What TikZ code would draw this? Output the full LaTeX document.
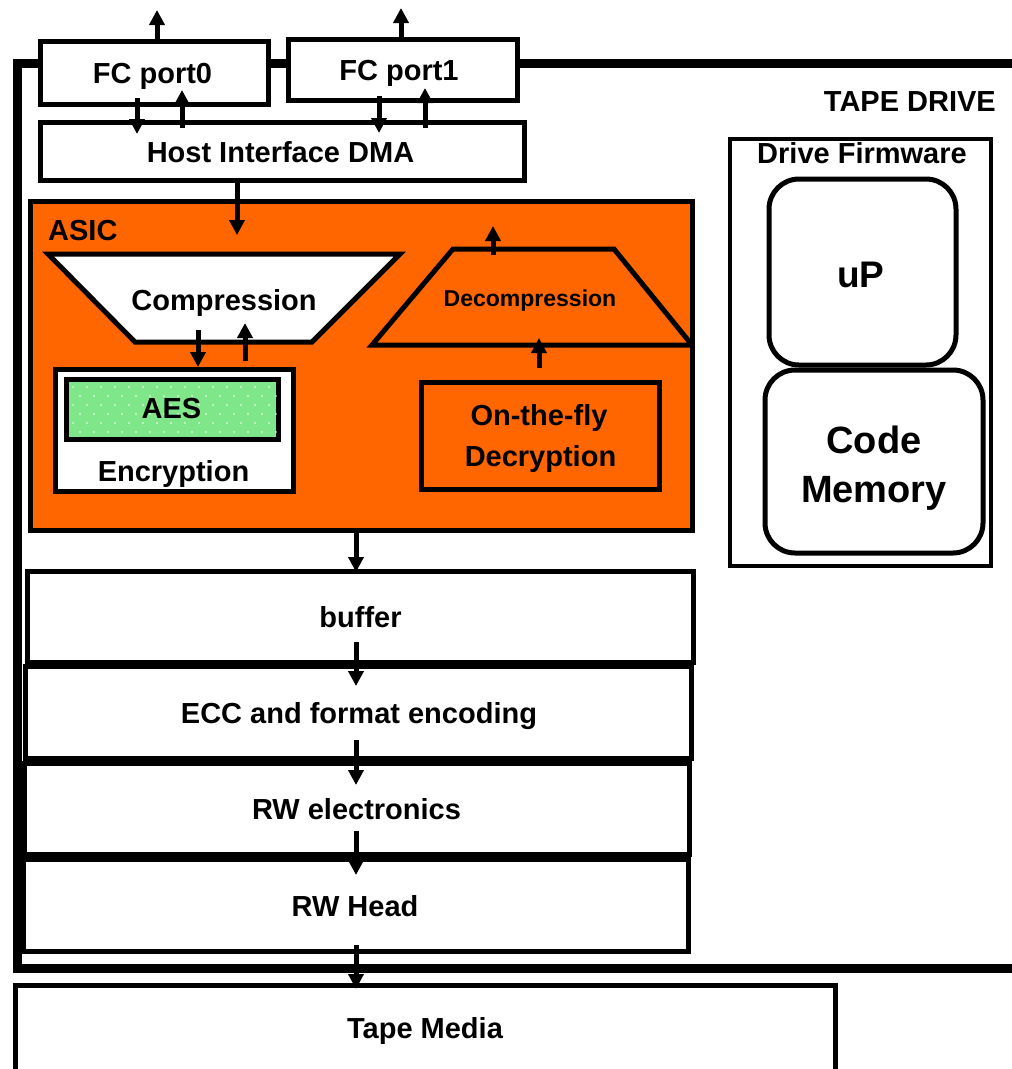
\documentclass[tikz,border=0pt]{standalone}
\usepackage{fontspec}
\setmainfont{Liberation Sans}
\usetikzlibrary{arrows.meta,calc}
\definecolor{asicorange}{RGB}{255,102,0}
\definecolor{aesgreen}{RGB}{128,230,138}
\begin{document}
\begin{tikzpicture}[x=1pt,y=-1pt,
  box/.style={draw=black, line width=5pt, fill=white, inner sep=0pt, outer sep=0pt},
  roundbox/.style={box, rounded corners=30pt},
  lbl/.style={anchor=base, inner sep=0pt, font=\bfseries\fontsize{29}{29}\selectfont},
  arr/.style={line width=5pt, -{Triangle[length=15pt,width=15pt]}}]
\useasboundingbox (0,0) rectangle (1012,1069);

% tape drive enclosure
\draw[line width=9pt] (1030,63) -- (17,63) -- (17,968) -- (1030,968);

% host side
\node[box, minimum width=228pt, minimum height=63pt] (port0) at (154,72.5) {};
\node[box, minimum width=229pt, minimum height=61pt] (port1) at (402.5,69.5) {};
\node[box, minimum width=484pt, minimum height=58pt] (host) at (282,151) {};

% ASIC block
\node[box, fill=asicorange, minimum width=662pt, minimum height=329pt] (asic) at (361,365.5) {};
\draw[line width=5pt, fill=white] (48,254) -- (400,254) -- (312,342) -- (135,342) -- cycle;
\coordinate (compB) at (223.5,342);
\begin{scope}
  \clip (asic.north west) rectangle (asic.south east);
  \draw[line width=5pt, fill=asicorange] (453,249) -- (614,249) -- (692,345) -- (372,345) -- cycle;
\end{scope}
\coordinate (decT) at (533.5,249);
\coordinate (decB) at (532,345);
\node[box, minimum width=238pt, minimum height=122pt] (enc) at (174,430) {};
\node[box, fill=aesgreen, minimum width=212pt, minimum height=60pt] (aes) at (172,409) {};
\foreach \j in {0,...,5}{
  \pgfmathsetmacro{\off}{mod(\j,2)*7}
  \foreach \i in {0,...,14}{
    \fill[white] ({73+14*\i+\off},{387+9*\j}) circle (0.9);
  }
}
\node[box, fill=asicorange, minimum width=238pt, minimum height=107pt] (dec) at (540,435.5) {};

% write path stack
\node[box, minimum width=666pt, minimum height=91pt] (buffer) at (360,616.5) {};
\node[box, minimum width=666pt, minimum height=92pt] (ecc) at (358,712) {};
\node[box, minimum width=665pt, minimum height=91pt] (rwe) at (356.5,808.5) {};
\node[box, minimum width=665pt, minimum height=92pt] (rwh) at (355.5,905) {};
\node[box, minimum width=820pt, minimum height=115pt] (tape) at (425,1042.5) {};

% firmware
\node[box, line width=4.5pt, minimum width=261pt, minimum height=427pt] (fw) at (860.5,352.5) {};
\node[roundbox, minimum width=187pt, minimum height=186pt] (up) at (862.5,272) {};
\node[roundbox, minimum width=218pt, minimum height=183pt] (mem) at (874,461.5) {};

% connectors
\draw[arr] ($(port0.north)+(3,0)$) -- ++(0,-31);
\draw[arr] ($(port1.north)+(-1.5,0)$) -- ++(0,-31);
\draw[arr] ($(port0.south)+(-17,-6)$) -- ($(host.north)+(-145,12)$);
\draw[arr] ($(host.north)+(-100,6)$) -- ($(port0.south)+(28,-14)$);
\draw[arr] ($(port1.south)+(-23.5,-4)$) -- ($(host.north)+(97,11)$);
\draw[arr] ($(host.north)+(143,6)$) -- ($(port1.south)+(22.5,-12)$);
\draw[arr] ($(host.south)+(-45,0)$) -- ($(asic.north)+(-124,34)$);
\draw[arr] ($(compB)+(-25.5,-12)$) -- ($(enc.north)+(24,-2)$);
\draw[arr] ($(enc.north)+(71,-8)$) -- ($(compB)+(21.5,-19)$);
\draw[arr] ($(decT)+(-40.5,6)$) -- ++(0,-29);
\draw[arr] ($(dec.north)+(-1,-14)$) -- ($(decB)+(7,-7)$);
\draw[arr] ($(asic.south)+(-5,0)$) -- ($(buffer.north)+(-4,1)$);
\draw[arr] ($(buffer.south)+(-4,-20)$) -- ($(ecc.north)+(-2,20)$);
\draw[arr] ($(ecc.south)+(-2,-18)$) -- ($(rwe.north)+(-0.5,22)$);
\draw[arr] ($(rwe.south)+(-0.5,-23)$) -- ($(rwh.north)+(0.5,16)$);
\draw[arr] ($(rwh.south)+(0.5,-6)$) -- ($(tape.north)+(-69,4)$);

% labels
\node[lbl] (t-port0) at (152.5,83) {FC port0};
\node[lbl] (t-port1) at (399,80) {FC port1};
\node[lbl] (t-host) at (280.5,162) {Host Interface DMA};
\node[lbl, anchor=base west] (t-asic) at (48,240) {ASIC};
\node[lbl] (t-comp) at (224,310) {Compression};
\node[lbl, font=\bfseries\fontsize{23}{23}\selectfont] (t-decomp) at (530,306) {Decompression};
\node[lbl] (t-aes) at (171.5,418) {AES};
\node[lbl] (t-enc) at (173.5,481) {Encryption};
\node[lbl] (t-dec1) at (539,425) {On-the-fly};
\node[lbl] (t-dec2) at (540.5,466) {Decryption};
\node[lbl] (t-buffer) at (360.5,627) {buffer};
\node[lbl] (t-ecc) at (359,723) {ECC and format encoding};
\node[lbl] (t-rwe) at (356.5,819) {RW electronics};
\node[lbl] (t-rwh) at (355,916) {RW Head};
\node[lbl] (t-tape) at (425,1038) {Tape Media};
\node[lbl, anchor=base east] (t-drive) at (996,111) {TAPE DRIVE};
\node[lbl] (t-fw) at (862,163) {Drive Firmware};
\node[lbl, font=\bfseries\fontsize{37}{37}\selectfont] (t-up) at (861,287) {uP};
\node[lbl, font=\bfseries\fontsize{38}{38}\selectfont] (t-code) at (874,453) {Code};
\node[lbl, font=\bfseries\fontsize{38}{38}\selectfont] (t-memory) at (874,502) {Memory};
\end{tikzpicture}
\end{document}
